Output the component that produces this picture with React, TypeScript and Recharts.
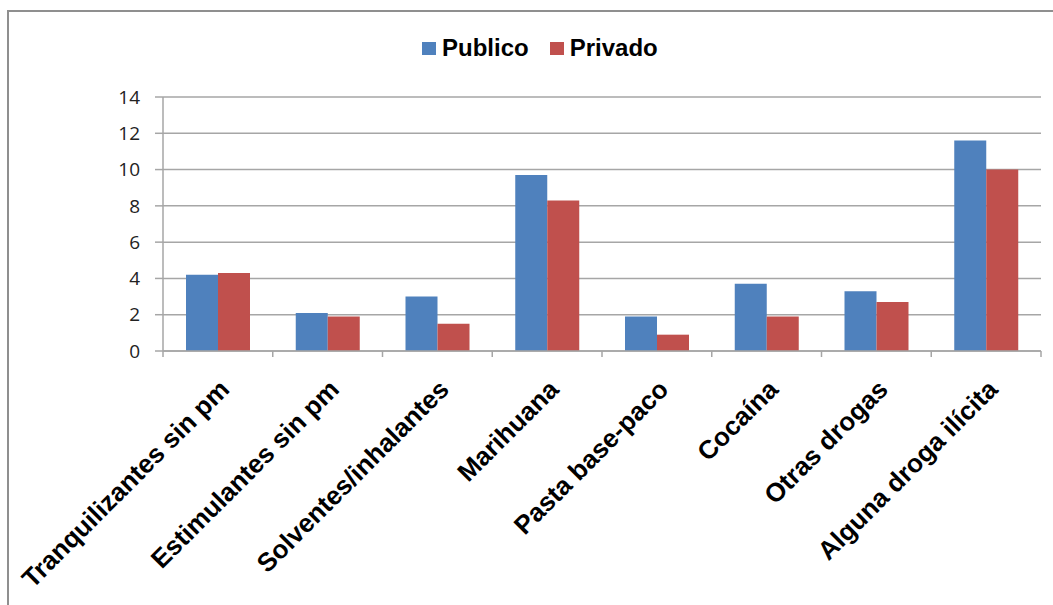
import React from 'react';
import { BarChart, Bar, XAxis, YAxis, CartesianGrid, Legend } from 'recharts';

const categories = [
  'Tranquilizantes sin pm',
  'Estimulantes sin pm',
  'Solventes/inhalantes',
  'Marihuana',
  'Pasta base-paco',
  'Cocaína',
  'Otras drogas',
  'Alguna droga ilícita',
];
const publico = [4.2, 2.1, 3.0, 9.7, 1.9, 3.7, 3.3, 11.6];
const privado = [4.3, 1.9, 1.5, 8.3, 0.9, 1.9, 2.7, 10.0];
const yTicks = [0, 2, 4, 6, 8, 10, 12, 14];
const seriesOrder = ['Publico', 'Privado'];

const data = categories.map((name, i) => ({ name, Publico: publico[i], Privado: privado[i] }));

const GRID = '#A6A6A6';

const CategoryTick = (props: any) => {
  const { x, y, payload, width, index } = props;
  const band = width / categories.length;
  const left = x - band / 2;
  const right = x + band / 2;
  const isLast = index === categories.length - 1;
  return (
    <g>
      <line x1={left} x2={left} y1={y} y2={y + 6} stroke={GRID} strokeWidth={1.5} />
      {isLast && <line x1={right} x2={right} y1={y} y2={y + 6} stroke={GRID} strokeWidth={1.5} />}
      <g transform={`translate(${x + 13},${y + 40})`}>
        <text
          x={0}
          y={0}
          textAnchor="end"
          transform="rotate(-45)"
          fontFamily="'Liberation Sans', Arial, sans-serif"
          fontWeight="bold"
          fontSize={26}
          fill="#000"
        >
          {payload.value}
        </text>
      </g>
    </g>
  );
};

const renderLegend = (props: any) => {
  const payload = [...(props.payload || [])].sort(
    (a: any, b: any) => seriesOrder.indexOf(a.value) - seriesOrder.indexOf(b.value)
  );
  return (
    <div style={{ display: 'flex', alignItems: 'center', marginLeft: 422 }}>
      {payload.map((p: any, i: number) => (
        <div key={i} style={{ display: 'flex', alignItems: 'center', marginRight: 21 }}>
          <div style={{ width: 14, height: 13, background: p.color, marginRight: 6 }} />
          <span
            style={{
              fontFamily: "'Liberation Sans', Arial, sans-serif",
              fontWeight: 'bold',
              fontSize: 24,
              color: '#000',
              lineHeight: '26px',
            }}
          >
            {p.value}
          </span>
        </div>
      ))}
    </div>
  );
};

export default function App() {
  return (
    <div
      style={{
        position: 'absolute',
        left: 0,
        top: 0,
        width: 1053,
        height: 605,
        overflow: 'hidden',
        background: '#fff',
      }}
    >
      <div
        style={{
          position: 'absolute',
          left: 7,
          top: 10,
          width: 1200,
          height: 800,
          border: '2px solid #8f8f8f',
          boxSizing: 'border-box',
        }}
      />
      <div style={{ position: 'absolute', left: 0, top: 0 }}>
        <BarChart
          width={1053}
          height={605}
          data={data}
          margin={{ top: 97, right: 12, bottom: 0, left: 0 }}
          barGap={0}
          barSize={32}
        >
          <CartesianGrid vertical={false} stroke={GRID} strokeWidth={1.5} />
          <XAxis
            dataKey="name"
            interval={0}
            axisLine={{ stroke: GRID, strokeWidth: 1.5 }}
            tickLine={false}
            tickSize={0}
            tickMargin={0}
            height={254}
            tick={<CategoryTick />}
          />
          <YAxis
            width={163}
            domain={[0, 14]}
            ticks={yTicks}
            interval={0}
            tickSize={8}
            tickMargin={15}
            axisLine={{ stroke: GRID, strokeWidth: 1.5 }}
            tickLine={{ stroke: GRID, strokeWidth: 1.5 }}
            tick={{ fontFamily: "'Open Sans', sans-serif", fontSize: 19, fill: '#222' }}
          />
          <Legend
            layout="horizontal"
            verticalAlign="middle"
            align="center"
            wrapperStyle={{ top: 35, left: 0, width: 1053 }}
            content={renderLegend}
          />
          <Bar dataKey="Publico" fill="#4F81BD" isAnimationActive={false} />
          <Bar dataKey="Privado" fill="#C0504D" isAnimationActive={false} />
        </BarChart>
      </div>
    </div>
  );
}
